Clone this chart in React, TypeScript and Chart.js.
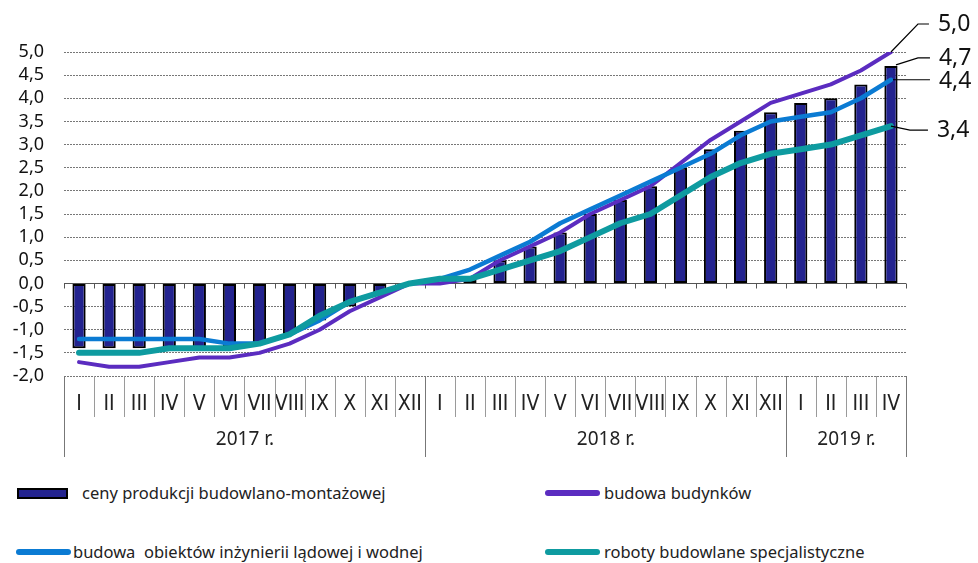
import React, { useEffect, useRef } from 'react';
import { Chart, registerables } from 'chart.js';

Chart.register(...registerables);

const months = [
  'I', 'II', 'III', 'IV', 'V', 'VI', 'VII', 'VIII', 'IX', 'X', 'XI', 'XII',
  'I', 'II', 'III', 'IV', 'V', 'VI', 'VII', 'VIII', 'IX', 'X', 'XI', 'XII',
  'I', 'II', 'III', 'IV',
];
const yearLabels = ['2017 r.', '2018 r.', '2019 r.'];
const yearSpans = [12, 12, 4];

const ceny = [
  -1.4, -1.4, -1.4, -1.4, -1.4, -1.4, -1.3, -1.1, -0.8, -0.5, -0.2, 0.0,
  0.0, 0.1, 0.5, 0.8, 1.1, 1.5, 1.8, 2.1, 2.5, 2.9, 3.3, 3.7,
  3.9, 4.0, 4.3, 4.7,
];
const budynki = [
  -1.7, -1.8, -1.8, -1.7, -1.6, -1.6, -1.5, -1.3, -1.0, -0.6, -0.3, 0.0,
  0.0, 0.1, 0.5, 0.8, 1.1, 1.5, 1.8, 2.1, 2.6, 3.1, 3.5, 3.9,
  4.1, 4.3, 4.6, 5.0,
];
const inzynieria = [
  -1.2, -1.2, -1.2, -1.2, -1.2, -1.3, -1.3, -1.1, -0.8, -0.4, -0.2, 0.0,
  0.1, 0.3, 0.6, 0.9, 1.3, 1.6, 1.9, 2.2, 2.5, 2.8, 3.2, 3.5,
  3.6, 3.7, 4.0, 4.4,
];
const specjalistyczne = [
  -1.5, -1.5, -1.5, -1.4, -1.4, -1.4, -1.3, -1.1, -0.7, -0.4, -0.2, 0.0,
  0.1, 0.1, 0.3, 0.5, 0.7, 1.0, 1.3, 1.5, 1.9, 2.3, 2.6, 2.8,
  2.9, 3.0, 3.2, 3.4,
];

const seriesNames = [
  'ceny produkcji budowlano-montażowej',
  'budowa budynków',
  'budowa  obiektów inżynierii lądowej i wodnej',
  'roboty budowlane specjalistyczne',
];
const colors = ['#23238f', '#5b2cc0', '#0b7bd3', '#0e9ba0'];

const FONT = "'Noto Sans', 'Open Sans', sans-serif";
const NARROW = "'Liberation Sans Narrow', 'DejaVu Sans Condensed', 'Roboto', sans-serif";

const fmt = (v: number) => v.toFixed(1).replace('.', ',');

const decor = {
  id: 'decor',
  beforeDatasetsDraw(chart: any) {
    const { ctx, chartArea, scales } = chart;
    const x = scales.x;
    const y = scales.y;
    const y0 = Math.round(y.getPixelForValue(0)) + 0.5;
    const half = (x.getPixelForValue(1) - x.getPixelForValue(0)) / 2;
    ctx.save();
    ctx.strokeStyle = '#555';
    ctx.lineWidth = 1;
    ctx.beginPath();
    ctx.moveTo(chartArea.left, y0);
    ctx.lineTo(chartArea.right, y0);
    for (let i = 0; i <= months.length; i++) {
      const px = Math.round(x.getPixelForValue(0) - half + i * 2 * half) + 0.5;
      ctx.moveTo(px, y0);
      ctx.lineTo(px, y0 + 5);
    }
    ctx.stroke();
    ctx.restore();
  },
  afterDraw(chart: any) {
    const { ctx, chartArea, scales } = chart;
    const x = scales.x;
    const y = scales.y;
    const half = (x.getPixelForValue(1) - x.getPixelForValue(0)) / 2;
    const bound = (i: number) => Math.round(x.getPixelForValue(0) - half + i * 2 * half) + 0.5;
    const top = chartArea.bottom;
    ctx.save();
    ctx.strokeStyle = '#9a9a9a';
    ctx.lineWidth = 1;
    ctx.beginPath();
    for (let i = 0; i <= months.length; i++) {
      ctx.moveTo(bound(i), top);
      ctx.lineTo(bound(i), top + 41);
    }
    ctx.stroke();
    ctx.strokeStyle = '#777';
    ctx.beginPath();
    let idx = 0;
    const yb = [0];
    yearSpans.forEach((s) => { idx += s; yb.push(idx); });
    yb.forEach((b) => {
      ctx.moveTo(bound(b), top);
      ctx.lineTo(bound(b), top + 81);
    });
    ctx.stroke();
    ctx.fillStyle = '#222';
    ctx.font = `19px ${FONT}`;
    ctx.textAlign = 'center';
    ctx.textBaseline = 'middle';
    yearLabels.forEach((lab, k) => {
      const cx = (bound(yb[k]) + bound(yb[k + 1])) / 2;
      ctx.fillText(lab, cx, top + 64);
    });

    const last = months.length - 1;
    const px = x.getPixelForValue(last);
    ctx.strokeStyle = '#000';
    ctx.lineWidth = 1.2;
    ctx.font = `23px ${FONT}`;
    ctx.textAlign = 'left';
    ctx.fillStyle = '#111';
    const draw = (pts: number[][], val: number, ty: number) => {
      ctx.beginPath();
      ctx.moveTo(pts[0][0], pts[0][1]);
      for (let i = 1; i < pts.length; i++) ctx.lineTo(pts[i][0], pts[i][1]);
      ctx.stroke();
      ctx.fillText(fmt(val), pts[pts.length - 1][0] + 9, ty);
    };
    const pB = y.getPixelForValue(budynki[last]);
    draw([[px, pB], [px + 27, pB - 28], [px + 38, pB - 28]], budynki[last], pB - 28);
    const pC = y.getPixelForValue(ceny[last]);
    draw([[px + 5, pC - 1], [px + 27, pC - 8], [px + 39, pC - 8]], ceny[last], pC - 7);
    const pI = y.getPixelForValue(inzynieria[last]);
    draw([[px + 2, pI], [px + 39, pI]], inzynieria[last], pI + 2);
    const pS = y.getPixelForValue(specjalistyczne[last]);
    draw([[px, pS], [px + 19, pS + 4], [px + 37, pS + 4]], specjalistyczne[last], pS + 4);
    ctx.restore();
  },
};

export default function App() {
  const ref = useRef<HTMLCanvasElement>(null);
  useEffect(() => {
    if (!ref.current) return;
    const lineDs = (label: string, data: number[], color: string, width: number, order: number) => ({
      type: 'line' as const,
      label,
      data,
      borderColor: color,
      backgroundColor: color,
      borderWidth: width,
      pointRadius: 0,
      tension: 0,
      borderJoinStyle: 'round' as const,
      borderCapStyle: 'round' as const,
      fill: false,
      order,
    });
    const chart = new Chart(ref.current, {
      type: 'bar',
      data: {
        labels: months,
        datasets: [
          {
            type: 'bar',
            label: seriesNames[0],
            data: ceny,
            backgroundColor: colors[0],
            borderColor: '#000',
            borderWidth: 2,
            borderSkipped: false,
            barPercentage: 0.44,
            categoryPercentage: 1,
            order: 10,
          },
          lineDs(seriesNames[1], budynki, colors[1], 4, 3),
          lineDs(seriesNames[2], inzynieria, colors[2], 4.5, 2),
          lineDs(seriesNames[3], specjalistyczne, colors[3], 6, 1),
        ] as any,
      },
      options: {
        animation: false,
        responsive: false,
        maintainAspectRatio: false,
        layout: { padding: { left: 0, right: 72, top: 52, bottom: 13 } },
        plugins: { legend: { display: false }, tooltip: { enabled: false } },
        scales: {
          x: {
            offset: true,
            grid: { display: false, drawOnChartArea: false, drawTicks: false },
            border: { display: false },
            ticks: {
              color: '#222',
              font: { family: NARROW, size: 21 },
              padding: 16,
              maxRotation: 0,
              autoSkip: false,
            },
            afterFit: (s: any) => { s.height = 81; },
          },
          y: {
            min: -2,
            max: 5,
            ticks: {
              stepSize: 0.5,
              autoSkip: false,
              color: '#111',
              font: { family: FONT, size: 18 },
              padding: 20,
              callback: (v: any) => fmt(Number(v)),
            },
            grid: { color: '#777', lineWidth: 1, drawTicks: false },
            border: { display: false, dash: [2, 1] },
            afterFit: (s: any) => { s.width = 64; },
          },
        },
      } as any,
      plugins: [decor],
    });
    return () => chart.destroy();
  }, []);

  const textStyle: React.CSSProperties = {
    position: 'absolute',
    fontFamily: FONT,
    fontSize: 16.5,
    color: '#222',
    lineHeight: '20px',
    whiteSpace: 'pre',
  };
  const lineSw = (left: number, top: number, color: string): React.CSSProperties => ({
    position: 'absolute', left, top, width: 55, height: 6, borderRadius: 3, background: color,
  });

  return (
    <div style={{ position: 'absolute', left: 0, top: 0, width: 978, height: 563, background: '#fff' }}>
      <canvas ref={ref} width={978} height={470} style={{ position: 'absolute', left: 0, top: 0, width: 978, height: 470 }} />
      <div style={{ position: 'absolute', left: 17, top: 488, width: 51, height: 11, boxSizing: 'border-box', background: colors[0], border: '2px solid #000' }} />
      <div style={{ ...textStyle, left: 82, top: 483 }}>{seriesNames[0]}</div>
      <div style={lineSw(545, 490, colors[1])} />
      <div style={{ ...textStyle, left: 604, top: 483 }}>{seriesNames[1]}</div>
      <div style={lineSw(16, 549, colors[2])} />
      <div style={{ ...textStyle, left: 73, top: 542 }}>{seriesNames[2]}</div>
      <div style={lineSw(545, 549, colors[3])} />
      <div style={{ ...textStyle, left: 604, top: 542 }}>{seriesNames[3]}</div>
    </div>
  );
}
